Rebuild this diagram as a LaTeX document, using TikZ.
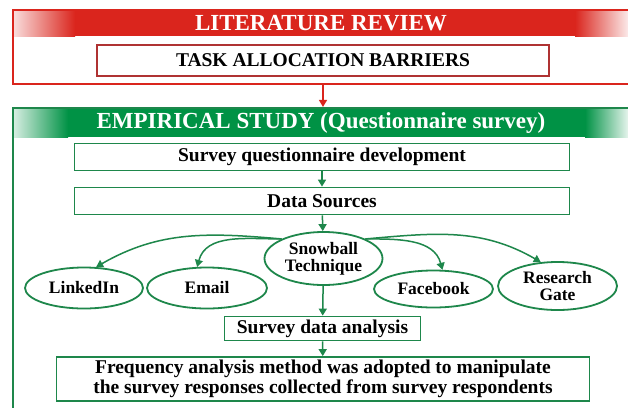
\documentclass[tikz,border=0pt]{standalone}
\usepackage{fontspec}
\setmainfont{Liberation Serif}
\usepackage{tikz}
\usetikzlibrary{positioning,shapes.geometric,arrows.meta}

\definecolor{litred}{RGB}{218,37,29}
\definecolor{barred}{RGB}{175,50,50}
\definecolor{empgreen}{RGB}{0,146,69}
\definecolor{boxgreen}{RGB}{30,135,75}

\begin{document}
\begin{tikzpicture}[x=1pt,y=-1pt,
			frame/.style={rectangle, draw=#1, line width=2.2pt, inner sep=0pt},
			redbox/.style={rectangle, draw=barred, line width=1.8pt, fill=white, inner sep=0pt},
			greenbox/.style={rectangle, draw=boxgreen, line width=1.8pt, fill=white, inner sep=0pt, align=center},
			source/.style={ellipse, draw=boxgreen, line width=1.8pt, fill=white, inner sep=0pt, align=center},
			headtext/.style={text=white, font=\bfseries\fontsize{23}{23}\selectfont},
			boxtext/.style={font=\bfseries\fontsize{19.5}{19.5}\selectfont},
			small/.style={font=\bfseries\fontsize{17.5}{17}\selectfont},
			redarrow/.style={draw=litred, line width=1.5pt, -{Triangle[width=8pt,length=7pt]}},
			greenarrow/.style={draw=boxgreen, line width=1.5pt, -{Triangle[width=8pt,length=7pt]}},
			]
			\useasboundingbox (0,0) rectangle (628,407);
			\clip (0,0) rectangle (628,407);
			\fill[white] (0,0) rectangle (628,407);

			%Header bands
				\fill[litred] (68,10) rectangle (640,36);
				\shade[left color=litred!15, right color=litred] (13,10) rectangle (75,36);
				\shade[left color=litred, right color=litred!10] (575,10) rectangle (628,36);
				\fill[empgreen] (60,108) rectangle (640,137);
				\shade[left color=empgreen!15, right color=empgreen] (13,108) rectangle (68,137);
				\shade[left color=empgreen, right color=empgreen!10] (585,108) rectangle (628,137);

			%Nodes
				\node[frame=litred, minimum width=627, minimum height=74]		(litframe)	at (326.5,47)		{};
				\node[frame=boxgreen, minimum width=627, minimum height=312]	(empframe)	at (326.5,264)	{};
				\node[headtext]		(littitle)		at (321,23)		{LITERATURE REVIEW};
				\node[headtext]		(emptitle)		at (321,122.5)	{EMPIRICAL STUDY (Questionnaire survey)};
				\node[redbox, boxtext, minimum width=452, minimum height=31]		(barriers)	at (323,60.5)		{TASK ALLOCATION BARRIERS};
				\node[greenbox, boxtext, minimum width=495, minimum height=27]	(develop)	at (322,157)		{Survey questionnaire development};
				\node[greenbox, boxtext, minimum width=495, minimum height=27]	(sources)	at (322,201)		{Data Sources};
				\node[source, small, minimum width=118, minimum height=53]		(snowball)	at (323.5,258.5)	{Snowball\\Technique};
				\node[source, small, minimum width=118, minimum height=41]		(linkedin)	at (84,288)		{LinkedIn};
				\node[source, small, minimum width=120, minimum height=41]		(email)		at (207,288)		{Email};
				\node[source, small, minimum width=119, minimum height=37]		(facebook)	at (433.5,289)	{Facebook};
				\node[source, small, minimum width=119, minimum height=48]		(resgate)	at (557.5,286)	{Research\\Gate};
				\node[greenbox, boxtext, minimum width=196, minimum height=24]	(analysis)	at (322.5,328.5)	{Survey data analysis};
				\node[greenbox, boxtext, minimum width=533, minimum height=44]	(frequency)	at (323,379)		{Frequency analysis method was adopted to manipulate\\the survey responses collected from survey respondents};

			%Lines
				\draw[redarrow] (barriers.south |- litframe.south) -- (barriers.south |- empframe.north);
				\draw[greenarrow] (develop) -- (sources);
				\draw[greenarrow] (sources) -- (snowball);
				\draw[greenarrow] (snowball) -- (analysis);
				\draw[greenarrow] (analysis) -- (frequency);
				\draw[greenarrow] (snowball.155) to[out=175, in=30] (linkedin.60);
				\draw[greenarrow] (snowball.155) to[out=180, in=75] (email.115);
				\draw[greenarrow] (snowball.25) to[out=0, in=105] (facebook.65);
				\draw[greenarrow] (snowball.25) to[out=5, in=150] (resgate.125);
		\end{tikzpicture}
\end{document}
